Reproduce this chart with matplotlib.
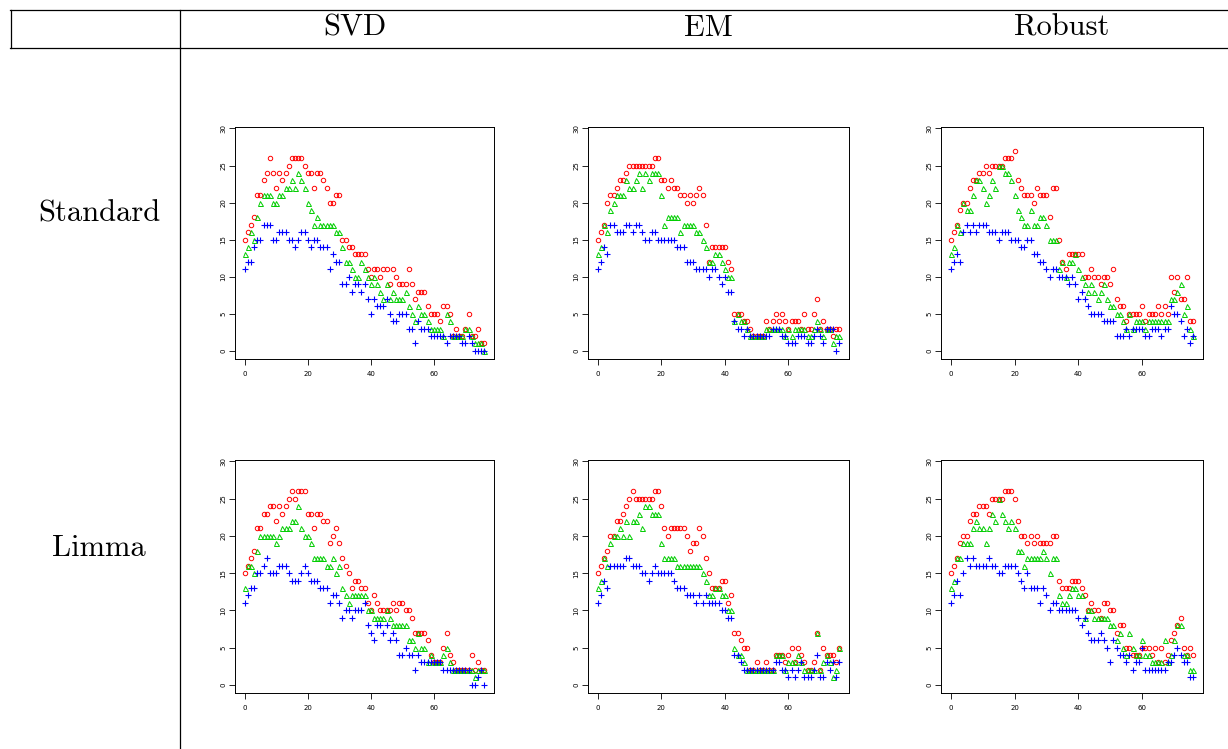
import matplotlib
matplotlib.use("Agg")
import matplotlib.pyplot as plt
import numpy as np

plt.rcParams['axes.unicode_minus'] = False

# column / row labels of the table
methods = ['SVD', 'EM', 'Robust']
designs = ['Standard', 'Limma']

# x positions (0..76) shared by every panel
x = np.arange(77)

# ---- Standard design ----
svd_std_red = [15,16,17,18,21,21,23,24,26,24, 22,24,23,24,25,26,26,26,26,25,
               24,24,22,24,24,23,22,20,20,21, 21,15,15,14,14,13,13,13,13,11,
               10,11,11,10,11,11,9,11,10,9, 9,9,11,9,7,8,8,8,6,5,
               5,5,4,6,6,5,2,3,2,2, 3,5,2,2,3,1,1]
svd_std_green = [13,14,16,15,18,20,21,21,21,20, 20,21,21,22,22,23,22,24,23,22,
                 20,19,17,18,17,17,17,17,17,16, 16,14,12,12,11,10,10,12,11,10,
                 9,10,9,8,7,9,7,8,7,7, 7,8,6,5,4,6,5,5,4,3,
                 3,3,3,2,5,4,2,2,2,2, 3,3,2,1,1,1,0]
svd_std_blue = [11,12,12,14,15,15,17,17,17,15, 15,16,16,16,15,15,14,15,16,16,
                15,14,15,15,14,14,14,11,13,12, 12,9,9,10,8,9,9,8,9,7,
                5,7,6,6,6,7,5,4,4,5, 5,5,3,3,1,4,3,3,3,2,
                2,2,2,2,1,2,2,2,2,1, 1,2,1,0,0,0,0]

em_std_red = [15,16,17,20,21,21,22,23,23,24, 25,25,25,25,25,25,25,25,26,26,
              23,23,22,23,22,22,21,21,20,21, 20,21,22,21,17,12,14,14,14,14,
              14,12,11,5,5,5,4,4,3,2, 2,2,2,4,3,4,5,4,5,4,
              3,4,4,4,3,5,3,3,5,7, 3,4,3,3,2,3,3]
em_std_green = [13,14,17,16,19,20,21,21,21,23, 22,22,23,24,22,24,23,24,24,24,
                21,17,18,18,18,18,16,17,17,17, 17,16,16,15,14,12,12,13,13,12,
                11,10,10,4,5,4,4,3,2,2, 2,2,2,3,3,3,3,3,3,2,
                3,2,3,3,3,3,2,2,3,4, 3,2,3,3,1,2,2]
em_std_blue = [11,12,14,13,17,17,16,16,16,17, 17,16,17,17,16,15,15,16,16,15,
               15,15,15,15,15,14,14,14,12,12, 12,11,11,11,11,10,11,11,10,9,
               10,8,8,4,3,3,2,3,2,2, 2,2,2,2,2,3,3,3,2,2,
               1,1,1,2,2,2,1,1,2,3, 2,1,3,3,3,0,1]

rob_std_red = [15,16,17,19,20,20,22,23,23,24, 24,25,24,25,25,25,25,26,26,26,
               27,23,22,21,21,21,20,22,21,21, 21,18,22,22,15,12,11,13,13,13,
               13,13,10,10,11,10,10,9,10,10, 9,11,7,6,6,4,5,5,5,5,
               6,4,5,5,5,6,5,6,5,10, 8,10,7,7,10,4,4]
rob_std_green = [13,14,17,16,20,19,19,21,23,23, 22,20,21,23,22,25,25,24,24,23,
                 21,19,18,17,17,19,17,17,18,18, 17,15,15,15,11,12,10,12,12,13,
                 11,10,9,8,9,8,7,8,9,7, 6,6,5,5,4,3,5,3,4,4,
                 4,3,4,4,4,4,4,4,4,7, 7,8,9,5,6,3,2]
rob_std_blue = [11,12,13,12,16,17,16,17,16,17, 17,17,16,16,16,15,16,16,16,15,
                15,15,14,14,15,15,13,13,12,12, 11,10,11,11,10,10,10,9,10,9,
                7,8,7,6,5,5,5,5,4,4, 4,4,2,2,2,3,2,3,3,3,
                3,2,2,3,3,3,2,3,3,6, 5,5,4,2,3,1,2]

# ---- Limma design ----
svd_lim_red = [15,16,17,18,21,21,23,23,24,24, 22,24,23,24,25,26,25,26,26,26,
               23,23,21,23,23,22,22,19,20,21, 19,17,16,15,13,14,14,13,13,11,
               10,12,11,10,10,10,10,11,10,11, 11,10,10,9,7,7,7,7,6,4,
               3,3,3,5,7,4,3,2,2,2, 2,2,4,2,3,2,2]
svd_lim_green = [13,16,16,15,18,20,20,20,20,20, 19,20,21,21,21,22,22,24,21,20,
                 20,19,17,17,17,17,16,16,17,15, 16,13,12,11,12,12,12,12,12,10,
                 10,9,9,9,9,10,9,8,8,8, 8,8,6,6,5,7,5,5,3,4,
                 3,3,3,4,5,3,2,2,2,2, 2,2,2,1,2,2,2]
svd_lim_blue = [11,12,13,13,15,15,16,17,15,15, 15,16,16,16,15,14,14,14,15,16,
                15,14,14,14,13,13,13,11,12,12, 11,9,10,10,9,10,10,10,11,8,
                7,6,8,8,7,8,6,7,6,4, 4,5,4,4,2,4,3,3,3,3,
                3,3,3,2,2,2,2,2,2,2, 2,2,0,0,1,2,0]

em_lim_red = [15,16,17,18,20,20,22,22,23,24, 25,26,25,25,25,25,25,25,26,26,
              24,21,20,21,21,21,21,21,20,18, 19,19,21,20,17,15,13,13,13,14,
              14,11,12,7,7,6,5,5,2,2, 3,2,2,3,2,2,4,4,4,3,
              4,5,3,5,4,3,2,2,3,7, 2,5,4,4,4,3,5]
em_lim_green = [13,14,17,16,19,20,20,21,20,22, 20,22,22,23,21,24,24,23,23,23,
                19,17,17,17,17,16,16,16,16,16, 16,16,16,15,14,12,12,13,13,12,
                12,10,10,5,4,4,3,2,2,2, 2,2,2,2,2,2,4,4,4,2,
                3,3,3,4,3,2,2,2,2,7, 2,3,4,3,1,2,5]
em_lim_blue = [11,12,14,13,16,16,16,16,16,17, 17,16,16,16,15,15,14,15,16,15,
               15,15,15,15,14,13,13,13,12,12, 12,11,12,11,12,11,11,11,11,10,
               10,9,9,4,4,3,2,2,2,2, 2,2,2,2,2,2,3,3,2,2,
               1,2,1,2,3,1,1,1,2,4, 1,1,3,2,3,1,3]

rob_lim_red = [15,16,17,19,20,20,22,23,23,24, 24,24,23,25,25,25,25,26,26,26,
               25,22,20,20,19,20,19,20,19,19, 19,19,20,20,14,13,13,13,14,14,
               14,13,12,10,11,10,10,9,11,11, 10,10,7,8,8,5,5,4,4,4,
               5,5,5,4,5,3,5,3,4,6, 7,8,9,5,4,5,4]
rob_lim_green = [13,14,17,17,19,19,19,21,22,21, 21,19,21,23,22,25,23,22,21,22,
                 21,18,18,16,17,17,17,17,17,18, 17,15,17,17,12,11,11,12,13,13,
                 12,12,9,10,10,9,9,9,9,9, 8,8,6,7,5,4,7,5,4,4,
                 6,4,4,3,3,3,3,6,3,4, 6,8,8,4,4,2,2]
rob_lim_blue = [11,12,14,12,15,17,16,17,16,16, 16,16,17,16,16,15,15,16,16,16,
                16,15,14,13,15,13,13,13,11,13, 12,10,11,11,10,10,10,10,10,10,
                9,8,9,7,6,6,6,7,6,5, 3,6,5,4,4,3,4,2,3,3,
                5,2,2,2,2,2,2,2,3,3, 4,5,4,3,3,1,1]

panels = [
    [(svd_std_red, svd_std_green, svd_std_blue),
     (em_std_red, em_std_green, em_std_blue),
     (rob_std_red, rob_std_green, rob_std_blue)],
    [(svd_lim_red, svd_lim_green, svd_lim_blue),
     (em_lim_red, em_lim_green, em_lim_blue),
     (rob_lim_red, rob_lim_green, rob_lim_blue)],
]

W, H = 1228, 749
fig = plt.figure(figsize=(W / 100, H / 100), dpi=100)

# table frame drawn in pixel coordinates
grid = fig.add_axes([0, 0, 1, 1])
grid.set_xlim(0, W)
grid.set_ylim(H, 0)
grid.axis('off')
lw = 0.9
grid.plot([10, W], [9.5, 9.5], color='black', lw=lw)
grid.plot([10, W], [47.5, 47.5], color='black', lw=lw)
grid.plot([10.5, 10.5], [9.5, 47.5], color='black', lw=lw)
grid.plot([179.5, 179.5], [9.5, H], color='black', lw=lw)

serif = 'cmr10'
for name, cx in zip(methods, [355, 708, 1062]):
    grid.text(cx, 28, name, fontsize=22, family=serif, ha='center', va='center')
for name, cy in zip(designs, [214, 548]):
    grid.text(99, cy, name, fontsize=22, family=serif, ha='center', va='center')

# panel boxes in pixels (left, right) and (top, bottom)
cols = [(235, 494), (588, 849), (941, 1203)]
rows = [(127, 359), (460, 693)]

for r, (top, bottom) in enumerate(rows):
    for c, (left, right) in enumerate(cols):
        ax = fig.add_axes([left / W, 1 - bottom / H, (right - left) / W, (bottom - top) / H])
        red, green, blue = panels[r][c]
        ax.plot(x, red, ls='none', marker='o', ms=3.2, mfc='none', mec='#FF0000', mew=0.7)
        ax.plot(x, green, ls='none', marker='^', ms=3.6, mfc='none', mec='#00CD00', mew=0.7)
        ax.plot(x, blue, ls='none', marker='+', ms=4.4, mec='#0000FF', mew=0.8)
        ax.set_xlim(-3.04, 79.04)
        ax.set_ylim(-1.1, 30.2)
        ax.set_xticks([0, 20, 40, 60])
        ax.set_yticks([0, 5, 10, 15, 20, 25, 30])
        ax.tick_params(length=4.3, width=0.6, labelsize=5)
        ax.tick_params(axis='x', pad=4.5)
        ax.tick_params(axis='y', pad=2)
        for lab in ax.get_yticklabels():
            lab.set_rotation(90)
            lab.set_va('center')
        for s in ax.spines.values():
            s.set_linewidth(0.7)

fig.savefig('out.png', dpi=100)
